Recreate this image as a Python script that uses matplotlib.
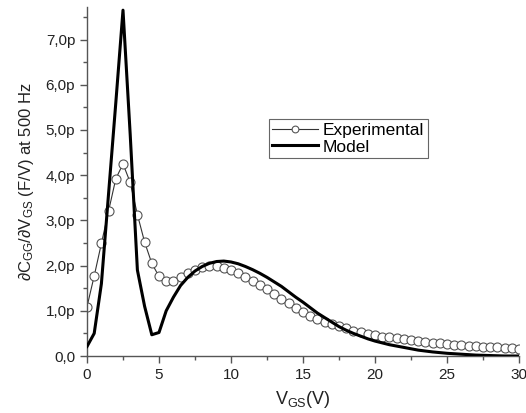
import matplotlib
matplotlib.use("Agg")
import matplotlib.pyplot as plt
from matplotlib.ticker import MultipleLocator, FuncFormatter
import numpy as np

plt.rcParams['font.family'] = ['Liberation Sans', 'DejaVu Sans']
plt.rcParams['mathtext.fontset'] = 'custom'
plt.rcParams['mathtext.rm'] = 'Liberation Sans'
plt.rcParams['mathtext.it'] = 'Liberation Sans:italic'
plt.rcParams['mathtext.default'] = 'regular'

# Experimental data (V_GS step 0.5 V), values in pF/V
exp_v = [i * 0.5 for i in range(61)]
exp_c = [1.09, 1.77, 2.49, 3.21, 3.92, 4.25, 3.84, 3.13, 2.52, 2.05,
         1.76, 1.66, 1.66, 1.74, 1.83, 1.90, 1.96, 1.99, 1.98, 1.95,
         1.90, 1.83, 1.74, 1.66, 1.57, 1.48, 1.38, 1.27, 1.17, 1.07,
         0.97, 0.89, 0.82, 0.76, 0.71, 0.66, 0.61, 0.56, 0.52, 0.49,
         0.46, 0.43, 0.41, 0.39, 0.37, 0.35, 0.33, 0.31, 0.29, 0.28,
         0.26, 0.25, 0.24, 0.23, 0.22, 0.21, 0.20, 0.19, 0.18, 0.17, 0.16]

# Model (V_GS step 0.5 V)
mod_v = [i * 0.5 for i in range(61)]
mod_c = [0.21, 0.50, 1.60, 3.60, 5.60, 7.65, 4.90, 1.90, 1.10, 0.47,
         0.52, 1.00, 1.30, 1.56, 1.74, 1.88, 1.98, 2.05, 2.09, 2.10,
         2.08, 2.04, 1.98, 1.91, 1.83, 1.74, 1.64, 1.54, 1.42, 1.30,
         1.19, 1.07, 0.95, 0.85, 0.75, 0.65, 0.57, 0.50, 0.44, 0.38,
         0.33, 0.29, 0.25, 0.22, 0.19, 0.16, 0.13, 0.11, 0.09, 0.075,
         0.06, 0.05, 0.04, 0.03, 0.02, 0.015, 0.01, 0.005, 0.0, 0.0, 0.0]

fig = plt.figure(figsize=(5.26, 4.13), dpi=100)
ax = fig.add_axes([87/526, 1-356/413, (519-87)/526, (356-7)/413])

ax.plot(exp_v, exp_c, color='#333333', lw=0.8, marker='o', markersize=6.5,
        markerfacecolor='white', markeredgecolor='#555555', markeredgewidth=0.8,
        label='Experimental', zorder=2)
ax.plot(mod_v, mod_c, color='black', lw=2.2, label='Model', zorder=3)

ax.set_xlim(0, 30)
ax.set_ylim(0, 7.72)
ax.xaxis.set_major_locator(MultipleLocator(5))
ax.xaxis.set_minor_locator(MultipleLocator(2.5))
ax.yaxis.set_major_locator(MultipleLocator(1))
ax.yaxis.set_minor_locator(MultipleLocator(0.5))
ax.yaxis.set_major_formatter(FuncFormatter(lambda v, p: '0,0' if abs(v) < 1e-9 else f'{v:.1f}'.replace('.', ',') + 'p'))

for s in ['top', 'right']:
    ax.spines[s].set_visible(False)
for s in ['left', 'bottom']:
    ax.spines[s].set_color('#555555')
    ax.spines[s].set_linewidth(1.0)
ax.tick_params(which='major', direction='out', length=5, width=1, color='#555555', labelsize=11, labelcolor='#222222')
ax.tick_params(which='minor', direction='out', length=3, width=1, color='#555555')

ax.set_xlabel('V$_{GS}$(V)', fontsize=13, color='#222222', labelpad=5)
ax.set_ylabel('∂C$_{GG}$/∂V$_{GS}$ (F/V) at 500 Hz', fontsize=12, color='#222222', labelpad=7)

leg = ax.legend(loc='upper left', bbox_to_anchor=(269/526, 1-119/413), bbox_transform=fig.transFigure,
                fancybox=False, edgecolor='#666666', framealpha=1, fontsize=12.5,
                handlelength=2.6, borderaxespad=0, borderpad=0.2, labelspacing=0.1,
                handletextpad=0.3, markerscale=0.75)
leg.get_frame().set_linewidth(0.8)

fig.savefig('out.png', dpi=100)
